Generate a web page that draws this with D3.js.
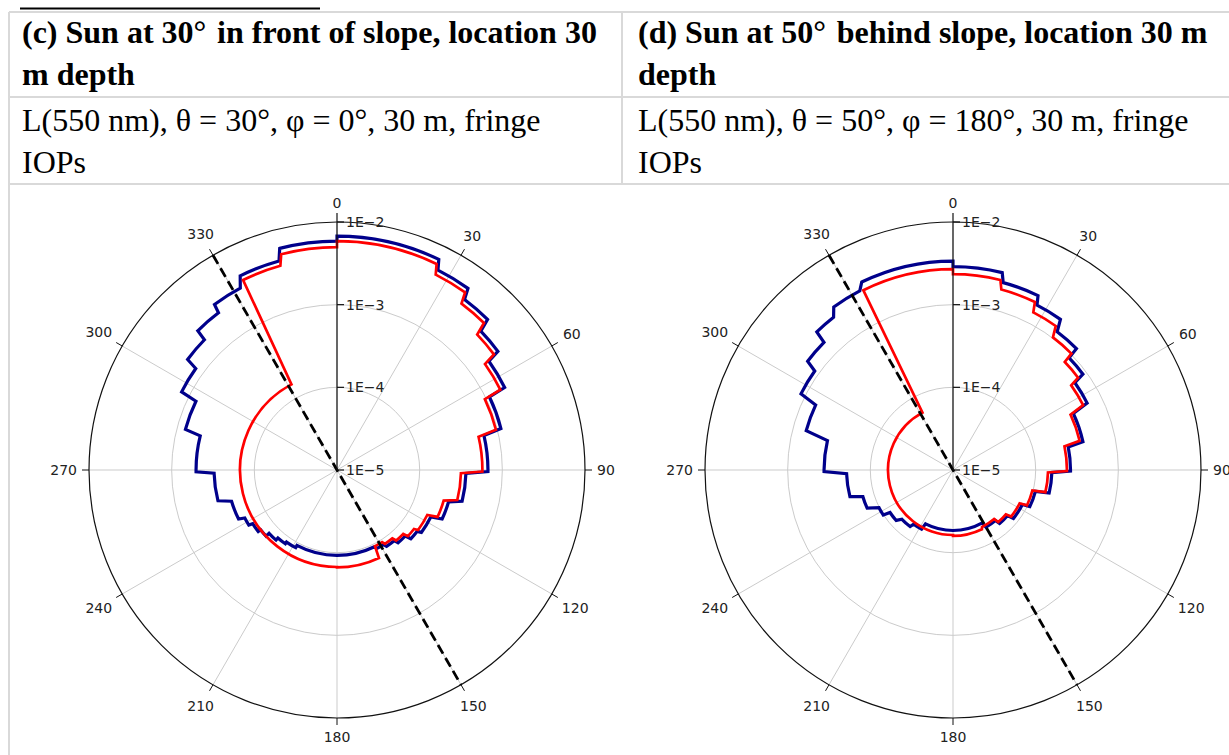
<!DOCTYPE html>
<html>
<head>
<meta charset="utf-8">
<script src="https://cdn.jsdelivr.net/npm/d3@7"></script>
<style>
  body { margin: 0; background: #fff; }
  svg { display: block; }
</style>
</head>
<body>
<div id="chart"></div>
<script>
const width = 1229;
const height = 755;

// table text
const headers = [
    ["(c) Sun at 30°\u2004in front of slope, location 30", "m depth"],
    ["(d) Sun at 50°\u2004behind slope, location 30 m", "depth"]
];
const captions = [
    ["L(550 nm), θ = 30°, φ = 0°, 30 m, fringe", "IOPs"],
    ["L(550 nm), θ = 50°, φ = 180°, 30 m, fringe", "IOPs"]
];

// polar axes
const thetaTicks = [0, 30, 60, 90, 120, 150, 180, 210, 240, 270, 300, 330];
const rTicks = [1e-5, 1e-4, 1e-3, 1e-2];
const rTickLabels = ["1E\u22125", "1E\u22124", "1E\u22123", "1E\u22122"];
const rRings = [1e-4, 1e-3];
const slopeLine = [330, 150];

// radiance per azimuth bin: [start az, end az, L]
const blueC = [
    [-180, -152, 1.08e-4], [-152, -145, 1.16e-4], [-145, -139, 1.23e-4], [-139, -133, 1.33e-4],
    [-133, -128, 1.49e-4], [-128, -122.5, 1.62e-4], [-122, -117.5, 1.81e-4], [-116.5, -106.5, 2.14e-4],
    [-104.5, -91.5, 3.07e-4], [-90.7, -76, 5.07e-4], [-75, -64, 7.91e-4], [-63.3, -54.3, 1.27e-3],
    [-53.5, -45.5, 1.77e-3], [-45, -37, 2.41e-3], [-36.5, -28, 3.10e-3], [-26.5, -15.5, 4.21e-3],
    [-14.5, 0, 5.87e-3], [0, 25.8, 6.75e-3], [26.8, 35.8, 5.11e-3], [36.8, 45, 3.76e-3],
    [46, 53.6, 2.62e-3], [54.4, 63.8, 1.82e-3], [64.4, 75.8, 1.11e-3], [76.8, 90.6, 6.70e-4],
    [91.5, 104, 3.63e-4], [106, 115, 2.53e-4], [116.5, 126.5, 1.86e-4], [127.5, 133, 1.66e-4],
    [134, 140, 1.41e-4], [141, 147, 1.26e-4], [148, 153, 1.16e-4], [154, 180, 1.08e-4]
];
const redC = [
    [-180, -28, 1.49e-4], [-26.3, -15.5, 3.66e-3], [-14.5, 0, 4.97e-3], [0, 25.8, 5.87e-3],
    [26.8, 35.8, 4.45e-3], [36.8, 45, 3.27e-3], [46, 53.6, 2.28e-3], [54.4, 63.8, 1.59e-3],
    [64.4, 75.8, 9.62e-4], [76.8, 90.6, 5.74e-4], [91.5, 104, 3.16e-4], [106, 115, 2.20e-4],
    [116.5, 126.5, 1.66e-4], [127.5, 133, 1.49e-4], [134, 140, 1.30e-4], [141, 147, 1.16e-4],
    [148, 153.5, 1.07e-4], [154.5, 180, 1.51e-4]
];
const blueD = [
    [-180, -153, 5.39e-5], [-152, -144, 6.46e-5], [-142.8, -134, 7.22e-5], [-131.6, -124, 8.30e-5],
    [-122.8, -117, 1.01e-4], [-114, -106.5, 1.37e-4], [-104.5, -92, 1.94e-4], [-90.7, -76.8, 3.63e-4],
    [-75, -64.7, 6.89e-4], [-63.4, -54.4, 1.14e-3], [-53.2, -45.3, 1.57e-3], [-44.6, -38, 2.22e-3],
    [-36.2, -27.5, 2.77e-3], [-25.9, 0, 3.37e-3], [0, 14, 2.89e-3], [15, 26, 2.22e-3],
    [27, 35.5, 1.73e-3], [37, 45.5, 1.24e-3], [46, 53.6, 8.97e-4], [54.4, 63.5, 6.51e-4],
    [64.8, 77.7, 4.06e-4], [78.7, 90.5, 2.64e-4], [91.5, 103.5, 1.57e-4], [104.5, 115.5, 1.07e-4],
    [116.5, 128.7, 8.65e-5], [130, 139, 7.22e-5], [140, 150, 6.28e-5], [151, 180, 5.39e-5]
];
const redD = [
    [-180, -28, 6.11e-5], [-26.5, 0, 2.69e-3], [0, 14, 2.34e-3], [15, 26, 1.82e-3],
    [27, 35.5, 1.38e-3], [37, 45.5, 1.02e-3], [46, 53.6, 7.59e-4], [54.4, 63.5, 5.74e-4],
    [64.8, 77, 3.73e-4], [78, 90.5, 2.39e-4], [91.5, 103.5, 1.41e-4], [104.5, 115.5, 9.81e-5],
    [116.5, 128.7, 7.96e-5], [130, 139, 6.83e-5], [140, 153, 5.94e-5], [154, 180, 6.28e-5]
];

const panels = [
    { cx: 337, cy: 470, blue: blueC, red: redC },
    { cx: 953, cy: 470, blue: blueD, red: redD }
];

const R = 248;
const rScale = d3.scaleLog().domain([1e-5, 1e-2]).range([0, R]);
const aScale = d3.scaleLinear().domain([0, 360]).range([0, 2 * Math.PI]);

const svg = d3.select("#chart")
    .append("svg")
    .attr("width", width)
    .attr("height", height);

// 1. Table frame
const gridColor = "#d9d9d9";
svg.append("line").attr("x1", 20).attr("x2", 320).attr("y1", 8.5).attr("y2", 8.5)
    .attr("stroke", "#000").attr("stroke-width", 2);
[12, 97, 184].forEach(y => {
    svg.append("line").attr("x1", 9).attr("x2", width).attr("y1", y).attr("y2", y)
        .attr("stroke", gridColor).attr("stroke-width", 2);
});
svg.append("line").attr("x1", 9).attr("x2", 9).attr("y1", 12).attr("y2", height)
    .attr("stroke", gridColor).attr("stroke-width", 2);
svg.append("line").attr("x1", 622).attr("x2", 622).attr("y1", 12).attr("y2", 184)
    .attr("stroke", gridColor).attr("stroke-width", 2);

const colX = [22, 638];
headers.forEach((lines, i) => {
    lines.forEach((t, j) => {
        svg.append("text").attr("x", colX[i]).attr("y", 43 + j * 42)
            .attr("font-family", "'Liberation Serif', 'Times New Roman', serif")
            .attr("font-size", 32).attr("font-weight", "bold").text(t);
    });
});
captions.forEach((lines, i) => {
    lines.forEach((t, j) => {
        svg.append("text").attr("x", colX[i]).attr("y", 131 + j * 42)
            .attr("font-family", "'Liberation Serif', 'Times New Roman', serif")
            .attr("font-size", 32).text(t);
    });
});

// 2. Polar plots
function polar(az, r) {
    const a = aScale(az);
    return [r * Math.sin(a), -r * Math.cos(a)];
}

function binPath(bins) {
    const p = d3.path();
    bins.forEach(([a0, a1, L], i) => {
        const r = rScale(L);
        const t0 = aScale(a0) - Math.PI / 2;
        const t1 = aScale(a1) - Math.PI / 2;
        if (i === 0) p.moveTo(r * Math.cos(t0), r * Math.sin(t0));
        p.arc(0, 0, r, t0, t1, false);
    });
    p.closePath();
    return p.toString();
}

const font = "'DejaVu Sans', sans-serif";
const fs = 14;

// label distance: clear the circle by a pad plus half the text box
function labelR(d) {
    const a = aScale(d);
    const hw = String(d).length * 0.318 * fs;
    const hh = 0.5 * fs;
    return R + 12 + hw * Math.abs(Math.sin(a)) + hh * Math.abs(Math.cos(a));
}

panels.forEach(pn => {
    const g = svg.append("g").attr("transform", `translate(${pn.cx},${pn.cy})`);

    // grid
    g.selectAll(".spoke").data(thetaTicks).enter().append("line")
        .attr("x1", 0).attr("y1", 0)
        .attr("x2", d => polar(d, R)[0]).attr("y2", d => polar(d, R)[1])
        .attr("stroke", "#cbcbcb").attr("stroke-width", 1);
    g.selectAll(".ring").data(rRings).enter().append("circle")
        .attr("r", d => rScale(d)).attr("fill", "none")
        .attr("stroke", "#cbcbcb").attr("stroke-width", 1);

    // outer frame and angle ticks
    g.append("circle").attr("r", R).attr("fill", "none")
        .attr("stroke", "#111").attr("stroke-width", 1.2);
    g.selectAll(".atick").data(thetaTicks.filter(d => d !== 0)).enter().append("line")
        .attr("x1", d => polar(d, R)[0]).attr("y1", d => polar(d, R)[1])
        .attr("x2", d => polar(d, R + 7)[0]).attr("y2", d => polar(d, R + 7)[1])
        .attr("stroke", "#111").attr("stroke-width", 1);
    g.selectAll(".alabel").data(thetaTicks).enter().append("text")
        .attr("x", d => polar(d, labelR(d))[0])
        .attr("y", d => polar(d, labelR(d))[1])
        .attr("text-anchor", "middle").attr("dominant-baseline", "central")
        .attr("font-family", font).attr("font-size", fs).attr("fill", "#222")
        .text(d => d);

    // radiance curves
    g.append("path").attr("d", binPath(pn.blue))
        .attr("fill", "none").attr("stroke", "#00008b").attr("stroke-width", 3.2)
        .attr("stroke-linejoin", "miter");
    g.append("path").attr("d", binPath(pn.red))
        .attr("fill", "none").attr("stroke", "#ff0000").attr("stroke-width", 2.7)
        .attr("stroke-linejoin", "miter");

    // slope orientation
    const s0 = polar(slopeLine[0], R), s1 = polar(slopeLine[1], R);
    g.append("line").attr("x1", s0[0]).attr("y1", s0[1]).attr("x2", s1[0]).attr("y2", s1[1])
        .attr("stroke", "#000").attr("stroke-width", 2.8).attr("stroke-dasharray", "10,5");

    // radial axis along 0 deg
    g.append("line").attr("x1", 0).attr("y1", 0).attr("x2", 0).attr("y2", -(R + 9))
        .attr("stroke", "#111").attr("stroke-width", 1.2);
    rTicks.forEach((v, i) => {
        const y = -rScale(v);
        g.append("line").attr("x1", 0).attr("x2", 7).attr("y1", y).attr("y2", y)
            .attr("stroke", "#111").attr("stroke-width", 1.2);
        g.append("text").attr("x", 9).attr("y", y)
            .attr("dominant-baseline", "central")
            .attr("font-family", font).attr("font-size", fs).attr("fill", "#222")
            .text(rTickLabels[i]);
    });
});
</script>
</body>
</html>
